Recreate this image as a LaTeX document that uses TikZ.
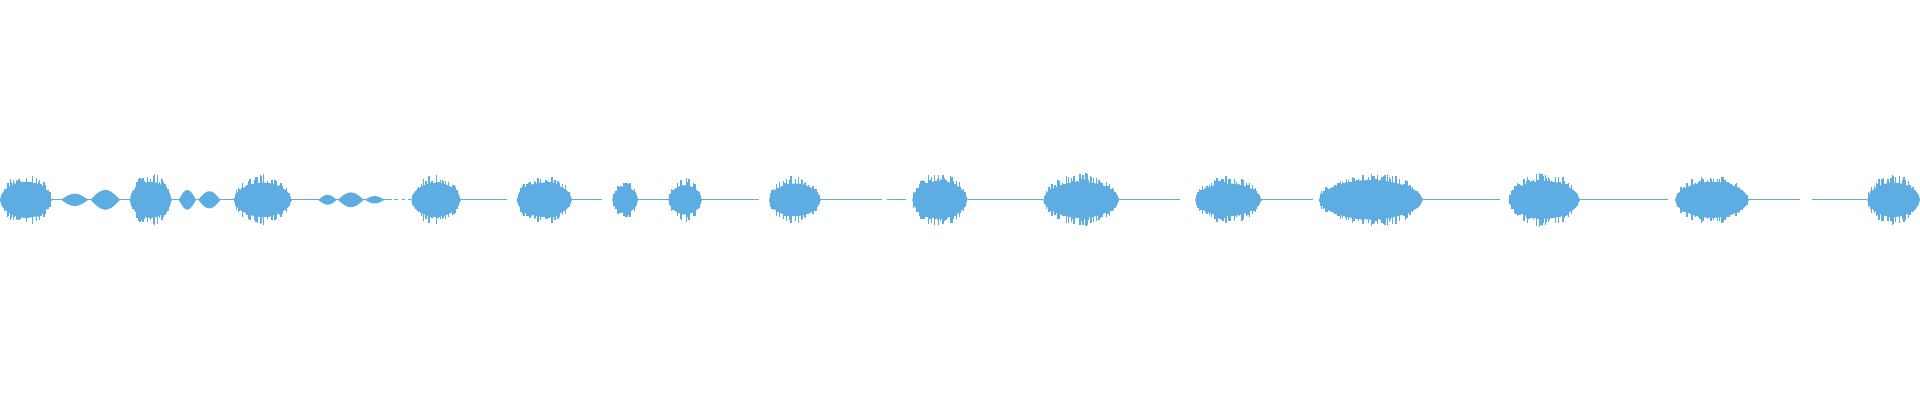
\documentclass[tikz,border=0pt]{standalone}
\definecolor{wave}{RGB}{93,173,226}
\tikzset{
  wavebase/.style={draw=wave,line width=0.25pt},
  wavefill/.style={fill=wave,draw=none},
  spike/.style={draw=wave,line width=0.3pt}
}
% burst: x0, x1, peak half height
\newcommand{\burst}[3]{%
  \fill[wave] plot[domain=0:1,samples=30,smooth] ({#1+(#2-#1)*\x},{163.5+0.7*#3*sqrt(sin(180*\x))})
    -- plot[domain=1:0,samples=30,smooth] ({#1+(#2-#1)*\x},{163.5-0.7*#3*sqrt(sin(180*\x))}) -- cycle;
  \pgfmathsetmacro\bn{int((#2-#1)/1.2)}
  \foreach \i in {0,...,\bn}{
    \pgfmathsetmacro\bt{\i/(\bn+0.001)}
    \pgfmathsetmacro\bh{#3*sqrt(sin(180*\bt))*(0.6+0.45*rnd)}
    \draw[spike] ({#1+1.2*\i},{163.5-\bh}) -- ({#1+1.2*\i},{163.5+\bh});
  }}
% lobe: x0, x1, half height
\newcommand{\lobe}[3]{%
  \fill[wave] plot[domain=0:1,samples=25,smooth] ({#1+(#2-#1)*\x},{163.5+#3*sin(180*\x)})
    -- plot[domain=1:0,samples=25,smooth] ({#1+(#2-#1)*\x},{163.5-#3*sin(180*\x)}) -- cycle;}
\begin{document}
\begin{tikzpicture}[x=0.01cm,y=0.01cm]
\useasboundingbox (0,0) rectangle (1568,326.7);
\pgfmathsetseed{7}
% base line
\foreach \a/\b in {40/106,138/192,236/300,302/320,372/414,462/492,518/548,570/620,668/720,
  724/740,786/852,912/964,1028/1072,1160/1225,1288/1362,1426/1470,1480/1525}
  \draw[wavebase] (\a,163.5) -- (\b,163.5);
\foreach \p in {322,328,333,980,1005,1024,1188,1210,1358,1482,1495,1505,1520}
  \draw[wavebase] (\p,163.5) -- (\p+3,163.5);
% small lobes
\lobe{50}{72}{5}
\lobe{74}{98}{8}
\lobe{146}{160}{8}
\lobe{162}{180}{7}
\lobe{260}{275}{4}
\lobe{276}{297}{6}
\lobe{298}{314}{3}
% bursts
\burst{0}{42}{21}
\burst{106}{140}{21}
\burst{191}{238}{20}
\burst{336}{376}{20}
\burst{422}{467}{20}
\burst{500}{521}{15}
\burst{546}{573}{17}
\burst{628}{670}{19}
\burst{745}{790}{22}
\burst{852}{914}{21}
\burst{976}{1030}{19}
\burst{1077}{1162}{23}
\burst{1232}{1290}{22}
\burst{1368}{1428}{21}
\burst{1525}{1568}{20}
\end{tikzpicture}
\end{document}
